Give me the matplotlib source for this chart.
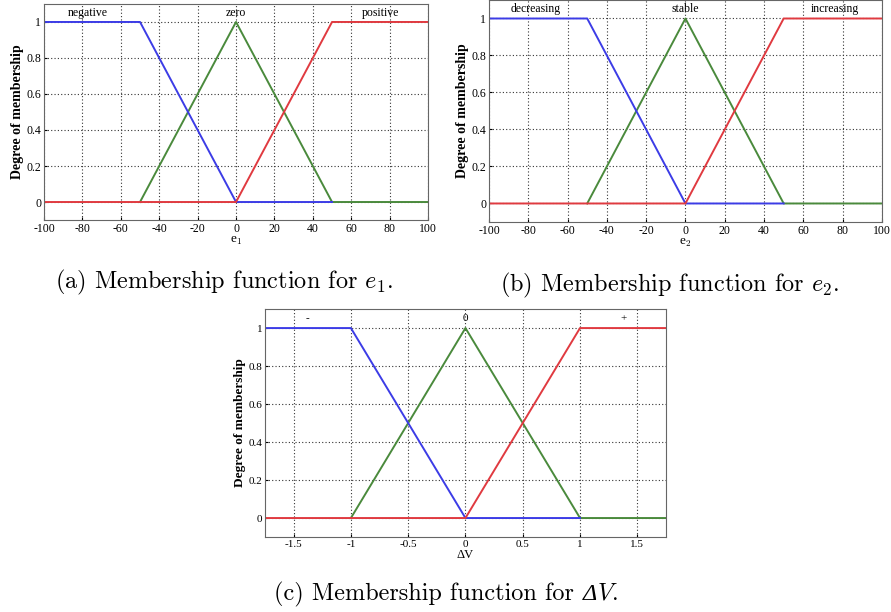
import matplotlib
matplotlib.use("Agg")
import matplotlib.pyplot as plt
from matplotlib.offsetbox import AnnotationBbox, HPacker, TextArea

plt.rcParams["mathtext.fontset"] = "cm"
plt.rcParams["axes.unicode_minus"] = False

SERIF = ["Liberation Serif", "DejaVu Serif"]

# membership functions for e1 / e2 (same universe)
e_blue_x = [-100, -50, 0, 50]
e_blue_y = [1, 1, 0, 0]
e_green_x = [-50, 0, 50, 100]
e_green_y = [0, 1, 0, 0]
e_red_x = [-100, 0, 50, 100]
e_red_y = [0, 0, 1, 1]
e_ticks = [-100, -80, -60, -40, -20, 0, 20, 40, 60, 80, 100]

# membership functions for delta V
dv_blue_x = [-1.75, -1, 0, 1]
dv_blue_y = [1, 1, 0, 0]
dv_green_x = [-1, 0, 1, 1.75]
dv_green_y = [0, 1, 0, 0]
dv_red_x = [-1.75, 0, 1, 1.75]
dv_red_y = [0, 0, 1, 1]
dv_ticks = [-1.5, -1, -0.5, 0, 0.5, 1, 1.5]
dv_ticklabels = ["-1.5", "-1", "-0.5", "0", "0.5", "1", "1.5"]

y_ticks = [0, 0.2, 0.4, 0.6, 0.8, 1]
y_ticklabels = ["0", "0.2", "0.4", "0.6", "0.8", "1"]

labels_e1 = [("negative", -77), ("zero", 0), ("positive", 75)]
labels_e2 = [("decreasing", -76), ("stable", 0), ("increasing", 76)]
labels_dv = [("-", -1.38), ("0", 0), ("+", 1.38)]


def draw_panel(ax, blue, green, red, xlim, xticks, xticklabels, names,
               xlabel, fs=8.5, ylabel_fs=10):
    ax.plot(*green, color="#4a8a3c", lw=1.4)
    ax.plot(*blue, color="#3c3ce6", lw=1.4)
    ax.plot(*red, color="#e03a40", lw=1.4)
    ax.set_xlim(*xlim)
    ax.set_ylim(-0.1, 1.1)
    ax.set_xticks(xticks)
    ax.set_xticklabels(xticklabels, family=SERIF, fontsize=fs)
    ax.set_yticks(y_ticks)
    ax.set_yticklabels(y_ticklabels, family=SERIF, fontsize=fs)
    ax.grid(True, color="#333333", linestyle=(0, (1, 2)), lw=0.8)
    ax.tick_params(length=2, pad=2, direction="in")
    for s in ax.spines.values():
        s.set_color("#666666")
    ax.set_ylabel("Degree of membership", family=SERIF, fontsize=ylabel_fs,
                  fontweight="bold", labelpad=2)
    ax.set_xlabel(xlabel, family=SERIF, fontsize=fs + 1, labelpad=0)
    for text, xpos in names:
        ax.text(xpos, 1.05, text, ha="center", va="center",
                family=SERIF, fontsize=fs)


def caption(fig, pieces, x, y):
    # pieces: list of (text, textprops) laid out on one baseline, centred at (x, y)
    areas = [TextArea(t, textprops=p) for t, p in pieces]
    box = HPacker(children=areas, align="baseline", pad=0, sep=0)
    ab = AnnotationBbox(box, (x, y), xycoords="figure fraction",
                        frameon=False, box_alignment=(0.5, 0.5), pad=0)
    fig.add_artist(ab)


fig = plt.figure(figsize=(8.91, 6.12), dpi=100)

ax_a = fig.add_axes([0.0494, 0.6405, 0.431, 0.353])
draw_panel(ax_a, (e_blue_x, e_blue_y), (e_green_x, e_green_y),
           (e_red_x, e_red_y), (-100, 100), e_ticks,
           [str(t) for t in e_ticks], labels_e1, "e$_1$")

ax_b = fig.add_axes([0.5488, 0.6373, 0.441, 0.3627])
draw_panel(ax_b, (e_blue_x, e_blue_y), (e_green_x, e_green_y),
           (e_red_x, e_red_y), (-100, 100), e_ticks,
           [str(t) for t in e_ticks], labels_e2, "e$_2$")

ax_c = fig.add_axes([0.2974, 0.1225, 0.450, 0.3725])
draw_panel(ax_c, (dv_blue_x, dv_blue_y), (dv_green_x, dv_green_y),
           (dv_red_x, dv_red_y), (-1.75, 1.75), dv_ticks, dv_ticklabels,
           labels_dv, "ΔV", fs=8, ylabel_fs=9.5)

cm_text = dict(fontsize=17.5, family="cmr10")
delta_text = dict(fontsize=17.5, family="Liberation Serif", style="italic")
caption(fig, [(r"(a) Membership function for $e_1$.", cm_text)],
        224 / 891, 1 - 282 / 612)
caption(fig, [(r"(b) Membership function for $e_2$.", cm_text)],
        670 / 891, 1 - 285 / 612)
caption(fig, [("(c) Membership function for ", cm_text),
              ("Δ", delta_text), ("$V$.", cm_text)],
        446 / 891, 1 - 594 / 612)

fig.savefig("out.png", dpi=100)
